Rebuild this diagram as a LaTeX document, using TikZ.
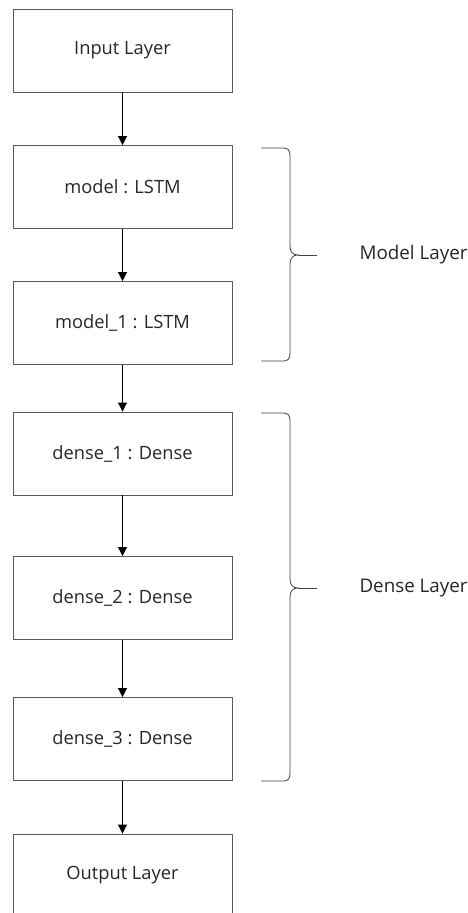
\documentclass[tikz,border=0pt]{standalone}
\usepackage{fontspec}
\setmainfont{Open Sans}
\usetikzlibrary{arrows.meta}

\tikzset{
  layerbox/.style={draw=black!65, line width=0.9pt, minimum width=219pt,
    minimum height=83pt, inner sep=0pt, text=black!85,
    font=\fontsize{18.3}{21}\selectfont},
  flow/.style={-{Triangle[width=9pt,length=9pt]}, line width=0.9pt},
  groupbrace/.style={draw=black!75, line width=0.8pt},
  grouplabel/.style={anchor=west, text=black!85, font=\fontsize{18.8}{21}\selectfont},
}

\begin{document}
\begin{tikzpicture}[x=1pt, y=-1pt]
  \useasboundingbox (0,0) rectangle (468,913);

  % layers
  \node[layerbox] (input)  at (122.5,50.5)  {Input Layer};
  \node[layerbox] (model)  at (122.5,187)   {model : LSTM};
  \node[layerbox] (model1) at (122.5,323)   {model\_1 : LSTM};
  \node[layerbox] (dense1) at (122.5,453.5) {dense\_1 : Dense};
  \node[layerbox] (dense2) at (122.5,598)   {dense\_2 : Dense};
  \node[layerbox] (dense3) at (122.5,739)   {dense\_3 : Dense};
  \node[layerbox] (output) at (122.5,875.5) {Output Layer};

  \draw[flow] (input) -- (model);
  \draw[flow] (model) -- (model1);
  \draw[flow] (model1) -- (dense1);
  \draw[flow] (dense1) -- (dense2);
  \draw[flow] (dense2) -- (dense3);
  \draw[flow] (dense3) -- (output);

  % model layer group
  \draw[groupbrace] (261,148) -- (283,148) .. controls (288,148) and (290,150) .. (290,156)
    -- (290,246) .. controls (290,252) and (293,255) .. (298,255)
    .. controls (293,255) and (290,258) .. (290,264)
    -- (290,353) .. controls (290,359) and (288,361) .. (283,361) -- (261,361);
  \draw[groupbrace] (298,255) -- (317,255);
  \node[grouplabel] (modellbl) at (356,255) {Model Layer};

  % dense layer group
  \draw[groupbrace] (261,413) -- (283,413) .. controls (288,413) and (290,415) .. (290,421)
    -- (290,579) .. controls (290,585) and (293,588) .. (298,588)
    .. controls (293,588) and (290,591) .. (290,597)
    -- (290,773) .. controls (290,779) and (288,781) .. (283,781) -- (261,781);
  \draw[groupbrace] (298,588) -- (317,588);
  \node[grouplabel] (denselbl) at (356,588) {Dense Layer};
\end{tikzpicture}
\end{document}
